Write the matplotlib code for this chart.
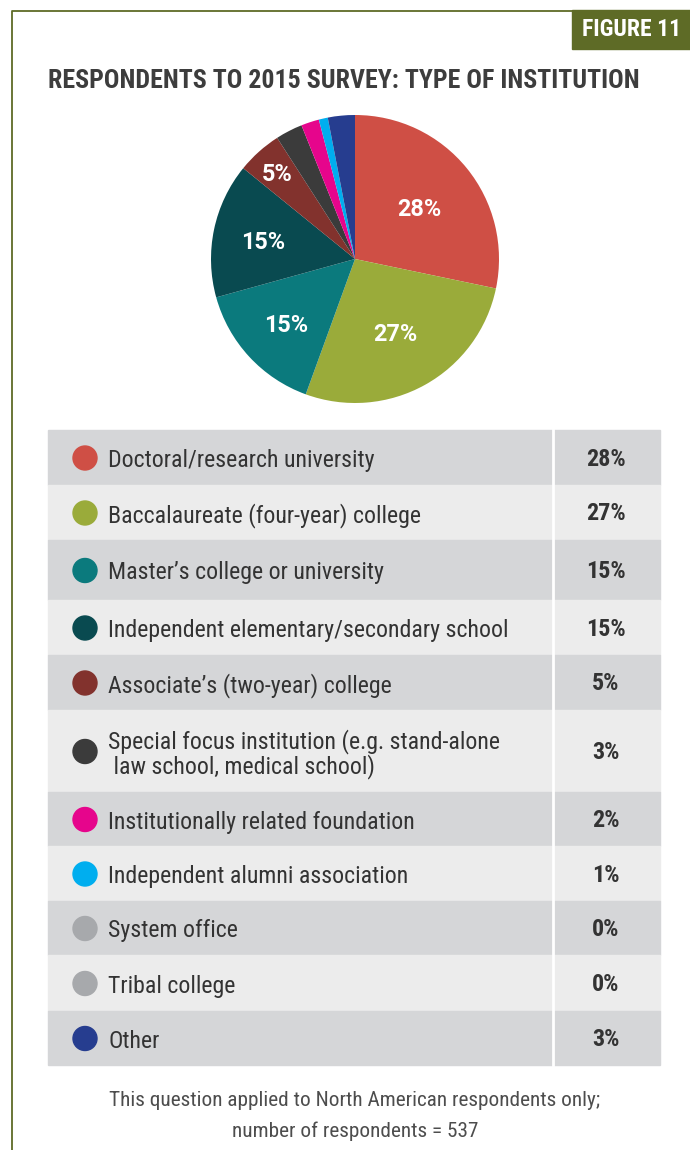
"""Figure 11: respondents to 2015 survey by type of institution (pie + table)."""

import matplotlib.pyplot as plt
import numpy as np
from matplotlib.patches import Rectangle, Circle

plt.rcParams["font.family"] = ["Roboto Condensed", "Roboto", "DejaVu Sans"]

categories = [
    "Doctoral/research university",
    "Baccalaureate (four-year) college",
    "Master\u2019s college or university",
    "Independent elementary/secondary school",
    "Associate\u2019s (two-year) college",
    "Special focus institution (e.g. stand-alone\n law school, medical school)",
    "Institutionally related foundation",
    "Independent alumni association",
    "System office",
    "Tribal college",
    "Other",
]
shares = [28, 27, 15, 15, 5, 3, 2, 1, 0, 0, 3]
colors = ["#cf4f45", "#9aab3a", "#0b7a7d", "#094a50", "#82322d", "#3b3b3b",
          "#e6058c", "#00aeef", "#a7a9ac", "#a7a9ac", "#263d8f"]

W, H = 690, 1150
OLIVE = "#5e6b26"
TXT = "#333333"

fig = plt.figure(figsize=(W / 100, H / 100), dpi=100)
ax = fig.add_axes([0, 0, 1, 1])
ax.set_xlim(0, W)
ax.set_ylim(H, 0)
ax.axis("off")

# frame + figure tag
ax.plot([12, 12, 572], [H, 11, 11], color=OLIVE, lw=1.3)
ax.add_patch(Rectangle((572, 10), 118, 39, color=OLIVE))
ax.text(632, 30, "FIGURE 11", color="white", fontsize=17, fontweight="bold",
        ha="center", va="center")
ax.text(48, 81, "RESPONDENTS TO 2015 SURVEY: TYPE OF INSTITUTION", color="#3d3d3d",
        fontsize=18.6, fontweight="bold", ha="left", va="center")

# pie
cx, cy, r = 355, 259, 144
pax = fig.add_axes([(cx - r) / W, 1 - (cy + r) / H, 2 * r / W, 2 * r / H])
wedges, _ = pax.pie(shares, colors=colors, startangle=90, counterclock=False,
                    wedgeprops=dict(linewidth=0))
pax.set_xlim(-1, 1)
pax.set_ylim(-1, 1)
pax.set_aspect("equal")
label_r = [0.58, 0.58, 0.65, 0.65, 0.81]
for w, s, lr in zip(wedges, shares, label_r):
    ang = np.deg2rad((w.theta1 + w.theta2) / 2)
    pax.text(lr * np.cos(ang), lr * np.sin(ang) - 0.02, f"{s}%", color="white",
             fontsize=16.8, fontweight="bold", family=["Roboto", "DejaVu Sans"],
             ha="center", va="center")

# table
row_h = [55, 55, 60, 55, 55, 82, 54, 55, 54, 56, 54]
top = 430
for i, (cat, s, c) in enumerate(zip(categories, shares, colors)):
    h = row_h[i]
    ax.add_patch(Rectangle((48, top), 612, h, color="#d5d6d8" if i % 2 == 0 else "#ececec"))
    mid = top + h / 2
    ax.add_patch(Circle((85, mid + 0.5), 12, color=c))
    ax.text(108, mid + 3, cat, color=TXT, fontsize=17.2, ha="left", va="center",
            linespacing=1.05)
    ax.text(606, mid + 1.5, f"{s}%", color=TXT, fontsize=17.3, fontweight="bold",
            ha="center", va="center")
    top += h
ax.plot([553, 553], [430, top], color="white", lw=2)

ax.text(355, 1100, "This question applied to North American respondents only;",
        color="#4d4d4d", fontsize=15.3, ha="center", va="center")
ax.text(355, 1131, "number of respondents = 537", color="#4d4d4d", fontsize=15.3,
        ha="center", va="center")

fig.savefig("out.png", dpi=100)
